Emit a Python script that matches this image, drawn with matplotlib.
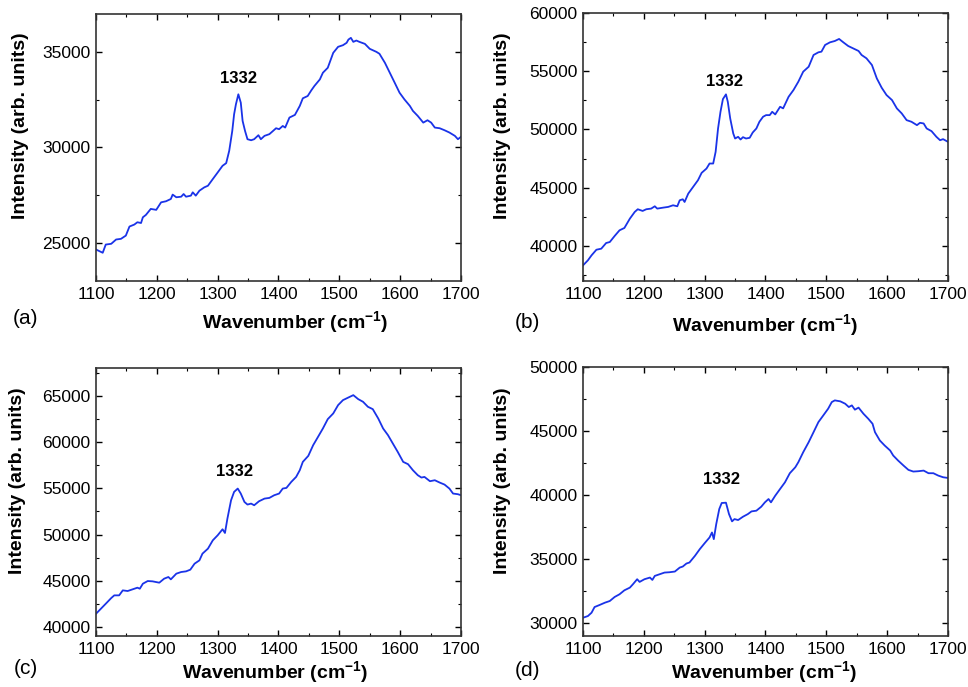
import matplotlib
matplotlib.use("Agg")
import matplotlib.pyplot as plt
from matplotlib.ticker import MultipleLocator

plt.rcParams['font.family'] = ['Liberation Sans', 'DejaVu Sans']
plt.rcParams['mathtext.fontset'] = 'custom'
plt.rcParams['mathtext.rm'] = 'Liberation Sans'
plt.rcParams['mathtext.bf'] = 'Liberation Sans:bold'

# spectra (wavenumber, intensity)
x_a = [1100, 1111, 1116, 1125, 1133, 1141, 1149, 1155, 1163, 1168, 1174, 1177, 1182, 1190, 1199,
       1207, 1215, 1223, 1226, 1232, 1240, 1244, 1248, 1256, 1259, 1264, 1270, 1278, 1284, 1292,
       1300, 1308, 1314, 1319, 1324, 1327, 1330, 1334, 1338, 1341, 1345, 1349, 1355, 1360, 1367,
       1371, 1377, 1385, 1390, 1396, 1401, 1407, 1411, 1418, 1427, 1435, 1440, 1448, 1454, 1459,
       1468, 1473, 1481, 1490, 1498, 1506, 1512, 1515, 1519, 1523, 1528, 1533, 1542, 1550, 1561,
       1566, 1575, 1583, 1591, 1599, 1607, 1616, 1621, 1629, 1638, 1645, 1651, 1657, 1665, 1673,
       1681, 1690, 1695, 1700]
y_a = [24650, 24480, 24910, 24950, 25175, 25210, 25380, 25855, 25960, 26080, 26040, 26340, 26465, 26780, 26730,
       27125, 27180, 27300, 27530, 27390, 27420, 27560, 27420, 27475, 27650, 27475, 27735, 27910, 27995, 28345,
       28690, 29040, 29180, 29830, 30870, 31740, 32265, 32790, 32350, 31395, 30870, 30435, 30380, 30435, 30645,
       30435, 30610, 30700, 30840, 31010, 30960, 31130, 31045, 31570, 31710, 32180, 32580, 32700, 33000, 33225,
       33570, 33920, 34180, 34965, 35280, 35365, 35490, 35660, 35750, 35540, 35610, 35540, 35435, 35175, 35015,
       34915, 34440, 33920, 33400, 32875, 32525, 32180, 31920, 31655, 31305, 31430, 31305, 31045, 31010, 30905,
       30785, 30610, 30435, 30560]

x_b = [1100, 1108, 1114, 1122, 1130, 1138, 1144, 1152, 1160, 1168, 1177, 1185, 1190, 1198, 1204,
       1212, 1218, 1222, 1232, 1240, 1248, 1255, 1259, 1264, 1267, 1273, 1281, 1289, 1295, 1303,
       1308, 1314, 1318, 1322, 1326, 1330, 1335, 1338, 1342, 1347, 1350, 1355, 1359, 1363, 1368,
       1374, 1379, 1385, 1390, 1396, 1401, 1407, 1411, 1416, 1424, 1429, 1438, 1446, 1454, 1462,
       1471, 1479, 1487, 1492, 1498, 1506, 1514, 1521, 1528, 1536, 1544, 1553, 1558, 1566, 1575,
       1583, 1591, 1599, 1608, 1616, 1624, 1632, 1640, 1649, 1654, 1660, 1665, 1673, 1681, 1687,
       1692, 1700]
y_b = [38340, 38770, 39200, 39680, 39770, 40255, 40340, 40860, 41345, 41545, 42345, 42920, 43150, 43005, 43150,
       43205, 43405, 43205, 43290, 43350, 43490, 43405, 43920, 44005, 43775, 44490, 45065, 45640, 46270, 46640,
       47070, 47070, 48070, 50075, 51505, 52595, 53000, 52365, 50935, 49645, 49215, 49360, 49130, 49330, 49215,
       49275, 49730, 50075, 50650, 51080, 51220, 51220, 51505, 51280, 51935, 51800, 52795, 53370, 54085, 54945,
       55370, 56375, 56605, 56660, 57235, 57460, 57575, 57750, 57460, 57145, 56945, 56720, 56375, 56090, 55515,
       54370, 53570, 52940, 52510, 51795, 51365, 50790, 50650, 50360, 50560, 50505, 50075, 49845, 49360, 49070,
       49160, 48930]

x_c = [1100, 1108, 1116, 1125, 1130, 1138, 1144, 1152, 1160, 1168, 1172, 1177, 1185, 1193, 1204,
       1212, 1219, 1223, 1232, 1240, 1248, 1255, 1262, 1270, 1275, 1284, 1292, 1300, 1308, 1312,
       1316, 1322, 1327, 1333, 1338, 1344, 1349, 1355, 1360, 1368, 1377, 1385, 1393, 1401, 1407,
       1413, 1421, 1429, 1435, 1440, 1449, 1457, 1465, 1473, 1481, 1490, 1498, 1506, 1514, 1523,
       1531, 1539, 1547, 1555, 1564, 1572, 1580, 1588, 1596, 1605, 1613, 1621, 1629, 1635, 1640,
       1649, 1657, 1665, 1673, 1681, 1687, 1695, 1700]
y_c = [41440, 41980, 42520, 43135, 43425, 43425, 43965, 43895, 44075, 44255, 44145, 44685, 44975, 44940, 44795,
       45230, 45410, 45155, 45770, 45950, 46020, 46200, 46850, 47210, 47935, 48475, 49375, 49920, 50570, 50170,
       51720, 53705, 54610, 54970, 54430, 53525, 53240, 53345, 53165, 53600, 53885, 53960, 54250, 54430, 54970,
       55040, 55690, 56230, 56955, 57855, 58505, 59660, 60560, 61465, 62475, 63090, 63990, 64530, 64785, 65070,
       64640, 64350, 63810, 63555, 62545, 61465, 60745, 59840, 58940, 57855, 57605, 56955, 56415, 56160, 56230,
       55765, 55870, 55620, 55400, 54970, 54430, 54360, 54250]

x_d = [1100, 1108, 1114, 1119, 1127, 1136, 1144, 1152, 1160, 1168, 1177, 1182, 1189, 1193, 1201,
       1210, 1214, 1218, 1226, 1234, 1242, 1251, 1259, 1264, 1270, 1275, 1284, 1292, 1300, 1308,
       1312, 1315, 1319, 1324, 1328, 1335, 1340, 1345, 1349, 1355, 1363, 1371, 1377, 1385, 1393,
       1399, 1405, 1409, 1416, 1424, 1432, 1440, 1449, 1454, 1462, 1471, 1479, 1487, 1495, 1503,
       1509, 1514, 1523, 1531, 1537, 1542, 1547, 1553, 1561, 1569, 1576, 1580, 1588, 1596, 1605,
       1610, 1618, 1627, 1635, 1643, 1651, 1660, 1668, 1676, 1684, 1692, 1700]
y_d = [30450, 30580, 30840, 31285, 31440, 31625, 31755, 32070, 32280, 32590, 32800, 33060, 33455, 33245, 33455,
       33585, 33400, 33715, 33845, 33975, 34000, 34055, 34365, 34445, 34680, 34760, 35280, 35805, 36270, 36715,
       37105, 36585, 37755, 38935, 39405, 39430, 38540, 37970, 38150, 38075, 38335, 38540, 38750, 38805, 39115,
       39455, 39715, 39455, 39975, 40500, 41020, 41730, 42195, 42590, 43370, 44155, 44935, 45720, 46240, 46765,
       47285, 47415, 47340, 47155, 46895, 47025, 46690, 46850, 46375, 45980, 45590, 44935, 44285, 43890, 43500,
       43110, 42720, 42325, 41990, 41860, 41885, 41935, 41730, 41730, 41545, 41415, 41360]

panel_names = ['(a)', '(b)', '(c)', '(d)']
peak_label = '1332'

fig = plt.figure(figsize=(9.68, 6.87), dpi=100)

boxes = [[0.0992, 0.591, 0.377, 0.3886],
         [0.6023, 0.591, 0.377, 0.3905],
         [0.0992, 0.0738, 0.377, 0.3905],
         [0.6023, 0.0738, 0.377, 0.3916]]
ylims = [(23000, 37000), (37000, 60000), (39000, 68000), (29000, 50000)]
peak_pos = [(1334, 33610), (1332, 54080), (1327, 56775), (1327, 41240)]
xlabel_pos = [(0.545, -0.157), (0.5, -0.165), (0.49, -0.137), (0.497, -0.136)]
ylabel_x = [-0.208, -0.222, -0.216, -0.222]
panel_pos = [(26, 318), (527, 323), (26, 668), (527, 671)]

xs = [x_a, x_b, x_c, x_d]
ys = [y_a, y_b, y_c, y_d]

for i in range(4):
    ax = fig.add_axes(boxes[i])
    ax.plot(xs[i], ys[i], color='#1a33e8', lw=1.3)
    ax.set_xlim(1100, 1700)
    ax.set_ylim(*ylims[i])
    ax.xaxis.set_major_locator(MultipleLocator(100))
    ax.xaxis.set_minor_locator(MultipleLocator(50))
    ax.yaxis.set_major_locator(MultipleLocator(5000))
    ax.yaxis.set_minor_locator(MultipleLocator(2500))
    ax.tick_params(which='both', direction='in', top=True, right=True, labelsize=12.5, pad=4)
    ax.tick_params(which='major', length=4, width=1.0)
    ax.tick_params(which='minor', length=2.5, width=0.8)
    for s in ax.spines.values():
        s.set_linewidth(1.2)
        s.set_color('#333333')
    xl = ax.set_xlabel(r'Wavenumber (cm$^{\mathbf{-1}}$)', fontsize=14, fontweight='bold')
    xl.set_va('center')
    ax.xaxis.set_label_coords(*xlabel_pos[i])
    yl = ax.set_ylabel('Intensity (arb. units)', fontsize=14, fontweight='bold')
    yl.set_va('center')
    ax.yaxis.set_label_coords(ylabel_x[i], 0.58)
    ax.text(peak_pos[i][0], peak_pos[i][1], peak_label, fontsize=12, fontweight='bold',
            ha='center', va='center')
    fig.text(panel_pos[i][0] / 968, 1 - panel_pos[i][1] / 687, panel_names[i],
             fontsize=15, ha='center', va='center')

fig.savefig('out.png', dpi=100)
